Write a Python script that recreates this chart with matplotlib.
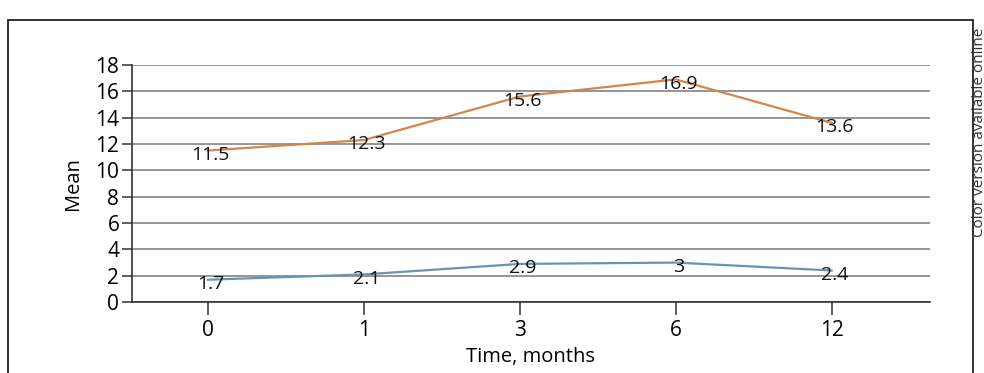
import matplotlib
matplotlib.use("Agg")
from matplotlib import pyplot as plt
from matplotlib.patches import Rectangle

# data
months = ["0", "1", "3", "6", "12"]
upper_means = [11.5, 12.3, 15.6, 16.9, 13.6]
lower_means = [1.7, 2.1, 2.9, 3, 2.4]
upper_labels = ["11.5", "12.3", "15.6", "16.9", "13.6"]
lower_labels = ["1.7", "2.1", "2.9", "3", "2.4"]

plt.rcParams['font.family'] = ['Open Sans', 'DejaVu Sans']

fig = plt.figure(figsize=(9.84, 3.73), dpi=100)
ax = fig.add_axes([0.134, 0.190, 0.811, 0.636])

X = range(len(months))
ax.plot(X, upper_means, color="#d4854c", lw=1.6, zorder=3)
ax.plot(X, lower_means, color="#6a93b3", lw=1.6, zorder=3)

for x, y, s in zip(X, upper_means, upper_labels):
    ax.annotate(s, (x, y), xytext=(2, -3), textcoords="offset points",
                ha="center", va="center", fontsize=14, color="#111111", zorder=4)
for x, y, s in zip(X, lower_means, lower_labels):
    ax.annotate(s, (x, y), xytext=(2, -3), textcoords="offset points",
                ha="center", va="center", fontsize=14, color="#111111", zorder=4)

ax.set_xlim(-0.487, 4.63)
ax.set_ylim(0, 18)
ax.set_yticks(range(0, 19, 2))
ax.set_xticks(list(X))
ax.set_xticklabels(months)
ax.yaxis.grid(True, color="#8c8c8c", lw=1.3)
ax.set_axisbelow(True)

for side in ["top", "right"]:
    ax.spines[side].set_visible(False)
for side in ["left", "bottom"]:
    ax.spines[side].set_color("#333333")
    ax.spines[side].set_linewidth(1.2)

ax.tick_params(axis="y", length=7, width=1.1, color="#333333", labelsize=15, pad=2)
ax.tick_params(axis="x", length=9, width=1.1, color="#333333", labelsize=15, pad=4)

ax.set_ylabel("Mean", fontsize=14.5, labelpad=9)
ax.set_xlabel("Time, months", fontsize=14.5, labelpad=4)

# outer frame of the figure panel
fig.patches.append(Rectangle((0.008, -0.05), 0.981, 0.996, transform=fig.transFigure,
                             fill=False, edgecolor="#222222", lw=1.3, clip_on=False))
fig.text(0.9955, 0.365, "Color version available online", rotation=90,
         ha="center", va="bottom", fontsize=11, color="#333333")

plt.savefig("out.png", dpi=100)
